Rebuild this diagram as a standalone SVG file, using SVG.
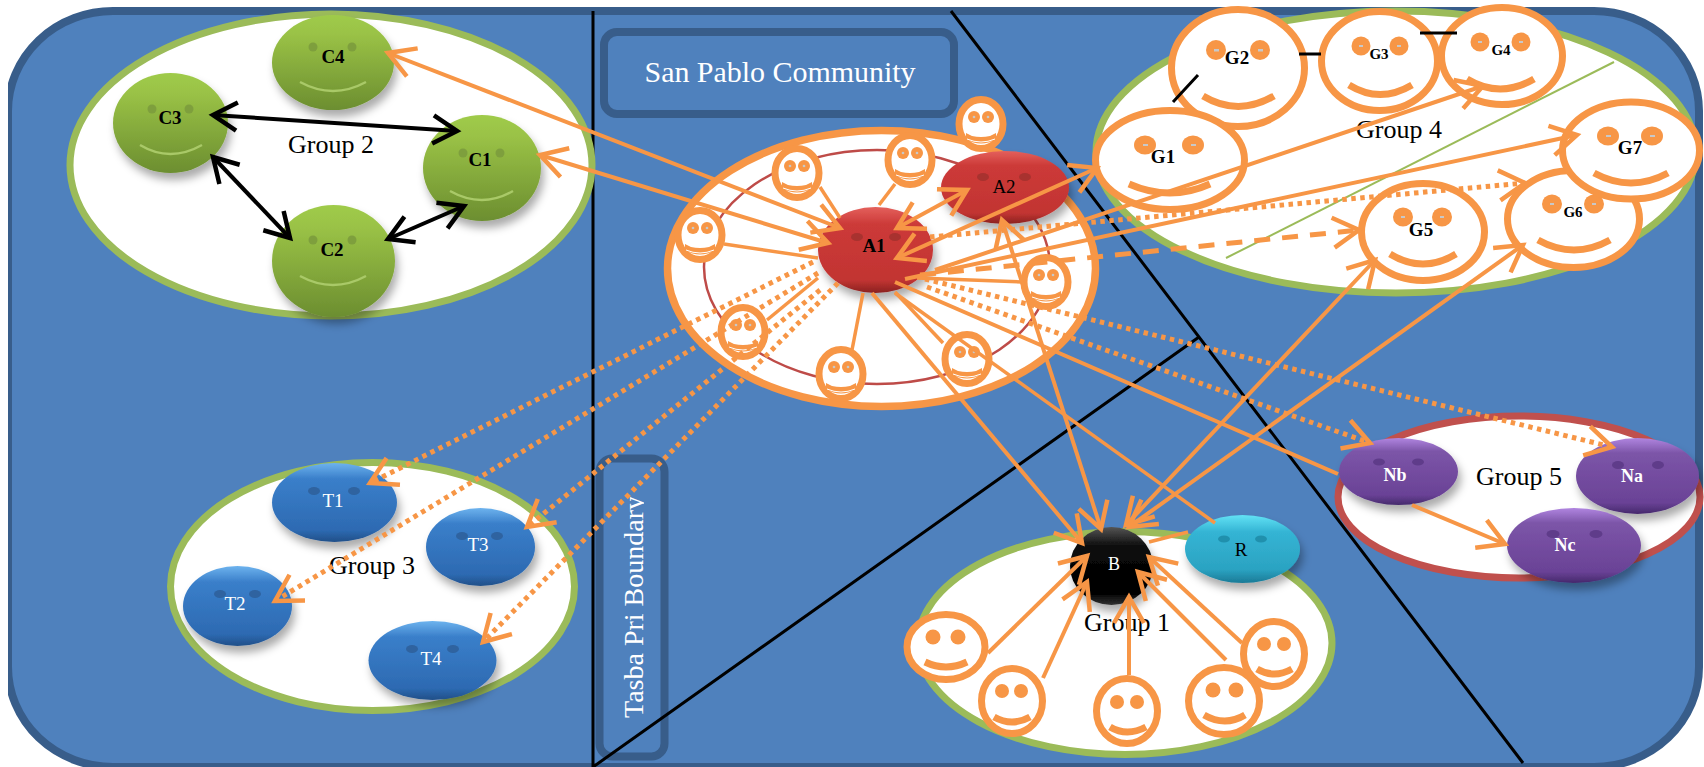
<svg xmlns="http://www.w3.org/2000/svg" width="1704" height="767" viewBox="0 0 1704 767">
<style>
text{font-family:"Liberation Serif","Times New Roman",serif;text-anchor:middle}
.bg{fill:#4f81bd;stroke:#385d8a;stroke-width:8}
.box{fill:#4f81bd;stroke:#385d8a;stroke-width:8}
.bl{stroke:#000;stroke-width:3;fill:none}
.grp{fill:#fff;stroke:#9bbb59;stroke-width:7}
.gl{font-size:26px;fill:#000}
.b{font-weight:bold;fill:#000;font-size:19px}
.n{fill:#000;font-size:19px}
.w{fill:#fff;font-size:19px}
.wb{fill:#fff;font-size:18px;font-weight:bold}
.sh{filter:url(#shadow)}
.face{fill:#fff;stroke:#f79646;stroke-width:7}
.eye{fill:#f79646}
.dot{fill:#c8c8c8}
.mouth{fill:none;stroke:#f79646;stroke-width:7}
.e-g{fill:#7e9f3d}.e-r{fill:#a8322f}.e-b{fill:#2f63a0}.e-p{fill:#5f3c8a}.e-c{fill:#2090ad}
.sm{fill:none;stroke:#a9c968;stroke-width:2.5}
.o{stroke:#f79646;stroke-width:4;fill:none}
.t{stroke-width:3.5}
.ah{marker-end:url(#ao)}
.ah2{marker-end:url(#ao);marker-start:url(#ao)}
.dt{stroke-width:5;stroke-dasharray:4.5 4.5}
.ds{stroke-width:5;stroke-dasharray:16 12}
.k{stroke:#000;stroke-width:4;fill:none;marker-end:url(#ak);marker-start:url(#ak)}
</style>
<defs>
<filter id="shadow" x="-20%" y="-20%" width="150%" height="150%"><feDropShadow dx="3" dy="7" stdDeviation="4" flood-color="#000" flood-opacity="0.33"/></filter>
<marker id="ao" markerUnits="userSpaceOnUse" markerWidth="40" markerHeight="40" refX="32" refY="20" orient="auto-start-reverse" viewBox="0 0 40 40"><path d="M6,5 L32,20 L6,35" fill="none" stroke="#f79646" stroke-width="4.5"/></marker>
<marker id="ak" markerUnits="userSpaceOnUse" markerWidth="40" markerHeight="40" refX="32" refY="20" orient="auto-start-reverse" viewBox="0 0 40 40"><path d="M8,6 L32,20 L8,34" fill="none" stroke="#000" stroke-width="4.5"/></marker>
<linearGradient id="gg" x1="0" y1="0" x2="0" y2="1"><stop offset="0" stop-color="#9fcb4a"/><stop offset=".2" stop-color="#9ac246"/><stop offset="1" stop-color="#6c8e30"/></linearGradient>
<linearGradient id="gr" x1="0" y1="0" x2="0" y2="1"><stop offset="0" stop-color="#e4605c"/><stop offset=".2" stop-color="#cc3a38"/><stop offset=".85" stop-color="#c23432"/><stop offset="1" stop-color="#8a2220"/></linearGradient>
<linearGradient id="gb" x1="0" y1="0" x2="0" y2="1"><stop offset="0" stop-color="#6db3ee"/><stop offset=".2" stop-color="#3a7fca"/><stop offset=".85" stop-color="#2d6ab2"/><stop offset="1" stop-color="#214f88"/></linearGradient>
<linearGradient id="gp" x1="0" y1="0" x2="0" y2="1"><stop offset="0" stop-color="#b085e0"/><stop offset=".2" stop-color="#7c55a8"/><stop offset=".85" stop-color="#6a4296"/><stop offset="1" stop-color="#45296c"/></linearGradient>
<linearGradient id="gc" x1="0" y1="0" x2="0" y2="1"><stop offset="0" stop-color="#62e2f5"/><stop offset=".25" stop-color="#34b4d4"/><stop offset=".8" stop-color="#2ba3c2"/><stop offset="1" stop-color="#1b7a96"/></linearGradient>
<linearGradient id="gk" x1="0" y1="0" x2="0" y2="1"><stop offset="0" stop-color="#555"/><stop offset=".25" stop-color="#0a0a0a"/><stop offset=".85" stop-color="#000"/><stop offset="1" stop-color="#333"/></linearGradient>
<clipPath id="tclip"><rect x="610" y="497" width="34" height="240"/></clipPath>
<clipPath id="bgclip"><rect x="8" y="0" width="1696" height="767"/></clipPath>
<g id="sf">
<ellipse rx="22" ry="24.5" class="face"/>
<circle cx="-7" cy="-7" r="6" class="eye"/><circle cx="7" cy="-7" r="6" class="eye"/>
<circle cx="-7" cy="-7" r="1.3" class="dot"/><circle cx="7" cy="-7" r="1.3" class="dot"/>
<path d="M-15,9 L-9,12 Q0,14 9,12 L15,9 L15,15 Q0,24 -15,15 Z" fill="#f79646"/>
<path d="M-14,15 Q0,21 14,15" fill="none" stroke="#fff" stroke-width="1"/>
</g>
</defs>

<g id="background">
<g clip-path="url(#bgclip)"><rect x="8" y="11" width="1691" height="756" rx="105" ry="100" class="bg"/></g>
<rect x="604" y="32" width="350" height="82" rx="13" class="box"/>
<rect x="599.5" y="458.5" width="65" height="298" rx="13" class="box"/>
<path class="bl" d="M593,11V767M951,11L1523,763M593,767L1199,337"/>
</g>

<g id="title-san-pablo"><text x="780" y="82" fill="#fff" font-size="30" textLength="271">San Pablo Community</text></g>
<g id="title-tasba"><g clip-path="url(#tclip)"><text transform="translate(643,607) rotate(-90)" fill="#fff" font-size="28">Tasba Pri Boundary</text></g></g>

<g id="group-2"><ellipse cx="331" cy="165" rx="261" ry="151" class="grp"/><text x="331" y="153" class="gl">Group 2</text></g>
<g id="group-3"><ellipse cx="372.5" cy="586.5" rx="202" ry="124" class="grp"/><text x="372" y="574" class="gl">Group 3</text></g>
<g id="group-1"><ellipse cx="1125" cy="643" rx="207" ry="111.5" class="grp"/><text x="1127" y="631" class="gl">Group 1</text></g>
<g id="group-4"><ellipse cx="1396" cy="152" rx="300" ry="141" class="grp"/><path d="M1226,258L1614,62" stroke="#9bbb59" stroke-width="2" fill="none"/><text x="1399" y="138" class="gl">Group 4</text></g>
<g id="group-5"><ellipse cx="1519" cy="497" rx="181" ry="81" class="grp" style="stroke:#c0504d"/><text x="1519" y="485" class="gl">Group 5</text></g>
<g id="group-a"><ellipse cx="881.5" cy="268.5" rx="214" ry="138" fill="#fff" stroke="#f79646" stroke-width="7.5"/><ellipse cx="877" cy="267" rx="173" ry="117" fill="none" stroke="#be4b48" stroke-width="2.5"/></g>

<g id="C4"><ellipse cx="333" cy="62.5" rx="61" ry="47.5" fill="url(#gg)" class="sh"/><circle cx="313" cy="47" r="4.5" class="e-g"/><circle cx="352" cy="47" r="4.5" class="e-g"/><path d="M300,82Q333,100 366,82" class="sm"/><text x="333" y="63" class="b">C4</text></g>
<g id="C3"><ellipse cx="170.5" cy="123" rx="57.5" ry="50" fill="url(#gg)" class="sh"/><circle cx="152" cy="109" r="4.5" class="e-g"/><circle cx="189" cy="109" r="4.5" class="e-g"/><path d="M140,145Q170,163 202,145" class="sm"/><text x="170" y="124" class="b">C3</text></g>
<g id="C1"><ellipse cx="482" cy="168" rx="59" ry="53" fill="url(#gg)" class="sh"/><circle cx="463" cy="153" r="4.5" class="e-g"/><circle cx="500" cy="153" r="4.5" class="e-g"/><path d="M450,191Q482,209 513,191" class="sm"/><text x="480" y="166" class="b">C1</text></g>
<g id="C2"><ellipse cx="333.5" cy="261" rx="61.5" ry="56" fill="url(#gg)" class="sh"/><circle cx="313" cy="240" r="4.5" class="e-g"/><circle cx="352" cy="240" r="4.5" class="e-g"/><path d="M300,276Q333,294 366,276" class="sm"/><text x="332" y="256" class="b">C2</text></g>

<g id="T1"><ellipse cx="334.5" cy="502.5" rx="62.5" ry="39.5" fill="url(#gb)" class="sh"/><ellipse cx="314" cy="491" rx="6" ry="4" class="e-b"/><ellipse cx="354" cy="491" rx="6" ry="4" class="e-b"/><text x="333" y="507" class="w">T1</text></g>
<g id="T3"><ellipse cx="480.5" cy="547" rx="54.5" ry="39" fill="url(#gb)" class="sh"/><ellipse cx="462" cy="536" rx="6" ry="4" class="e-b"/><ellipse cx="497" cy="536" rx="6" ry="4" class="e-b"/><text x="478" y="551" class="w">T3</text></g>
<g id="T2"><ellipse cx="237.5" cy="606" rx="54.5" ry="40" fill="url(#gb)" class="sh"/><ellipse cx="220" cy="594" rx="6" ry="4" class="e-b"/><ellipse cx="255" cy="594" rx="6" ry="4" class="e-b"/><text x="235" y="610" class="w">T2</text></g>
<g id="T4"><ellipse cx="432.5" cy="660.5" rx="64" ry="39.5" fill="url(#gb)" class="sh"/><ellipse cx="412" cy="649" rx="6" ry="4" class="e-b"/><ellipse cx="453" cy="649" rx="6" ry="4" class="e-b"/><text x="431" y="665" class="w">T4</text></g>

<g id="A2"><ellipse cx="1005" cy="187.5" rx="64" ry="36.5" fill="url(#gr)" class="sh"/><ellipse cx="983" cy="177" rx="6" ry="4" class="e-r"/><ellipse cx="1025" cy="177" rx="6" ry="4" class="e-r"/><text x="1004" y="193" class="n">A2</text></g>
<g id="A1"><ellipse cx="875.5" cy="250" rx="57.5" ry="43" fill="url(#gr)" class="sh"/><ellipse cx="857" cy="237" rx="6" ry="4" class="e-r"/><ellipse cx="895" cy="237" rx="6" ry="4" class="e-r"/><text x="874" y="252" class="b">A1</text></g>

<g id="a-face-1"><use href="#sf" x="981" y="124"/></g>
<g id="a-face-2"><use href="#sf" x="910" y="160"/></g>
<g id="a-face-3"><use href="#sf" x="797" y="173"/></g>
<g id="a-face-4"><use href="#sf" x="700" y="235"/></g>
<g id="a-face-5"><use href="#sf" x="743" y="332"/></g>
<g id="a-face-6"><use href="#sf" x="841" y="374"/></g>
<g id="a-face-7"><use href="#sf" x="967" y="359"/></g>
<g id="a-face-8"><use href="#sf" x="1046" y="282"/></g>

<g id="G2"><ellipse cx="1238" cy="68" rx="66.5" ry="58.5" class="face"/><circle cx="1216" cy="50" r="10" class="eye"/><circle cx="1260" cy="50" r="10" class="eye"/><rect x="1214" y="49" width="5" height="2.5" class="dot"/><rect x="1258" y="49" width="5" height="2.5" class="dot"/><path d="M1203,96Q1238,117 1274,96" class="mouth"/><text x="1237" y="64" class="b">G2</text></g>
<g id="G3"><ellipse cx="1379.5" cy="61" rx="58" ry="49.5" class="face"/><circle cx="1361" cy="46" r="9.5" class="eye"/><circle cx="1399" cy="46" r="9.5" class="eye"/><rect x="1359" y="45" width="4" height="2" class="dot"/><rect x="1397" y="45" width="4" height="2" class="dot"/><path d="M1349,85Q1380,104 1412,85" class="mouth"/><text x="1379" y="59" class="b" style="font-size:15px">G3</text></g>
<g id="G4"><ellipse cx="1502" cy="56" rx="60.5" ry="48.5" class="face"/><circle cx="1480" cy="42" r="9.5" class="eye"/><circle cx="1521" cy="42" r="9.5" class="eye"/><rect x="1478" y="41" width="4" height="2" class="dot"/><rect x="1519" y="41" width="4" height="2" class="dot"/><path d="M1467,79Q1500,99 1534,79" class="mouth"/><text x="1501" y="55" class="b" style="font-size:15px">G4</text></g>
<g id="G1"><ellipse cx="1170" cy="160" rx="74.5" ry="49.5" class="face"/><ellipse cx="1145" cy="145" rx="11" ry="9.5" class="eye"/><ellipse cx="1193" cy="145" rx="11" ry="9.5" class="eye"/><rect x="1143" y="144" width="5" height="2" class="dot"/><rect x="1191" y="144" width="5" height="2" class="dot"/><path d="M1129,184Q1170,202 1210,184" class="mouth"/><text x="1163" y="163" class="b">G1</text></g>
<g id="G5"><ellipse cx="1423" cy="232" rx="61.5" ry="48.5" class="face"/><ellipse cx="1403" cy="217" rx="10" ry="9.5" class="eye"/><ellipse cx="1442" cy="217" rx="10" ry="9.5" class="eye"/><rect x="1401" y="216" width="4" height="2" class="dot"/><rect x="1440" y="216" width="4" height="2" class="dot"/><path d="M1390,254Q1423,274 1456,254" class="mouth"/><text x="1421" y="236" class="b">G5</text></g>
<g id="G6"><ellipse cx="1573.5" cy="219" rx="66" ry="48.5" class="face"/><ellipse cx="1552" cy="204" rx="10" ry="9.5" class="eye"/><ellipse cx="1594" cy="204" rx="10" ry="9.5" class="eye"/><rect x="1550" y="203" width="4" height="2" class="dot"/><rect x="1592" y="203" width="4" height="2" class="dot"/><path d="M1538,240Q1574,260 1610,240" class="mouth"/><text x="1573" y="217" class="b" style="font-size:15px">G6</text></g>
<g id="G7"><ellipse cx="1631" cy="150.5" rx="68.5" ry="48.5" class="face"/><ellipse cx="1608" cy="136" rx="11" ry="9.5" class="eye"/><ellipse cx="1652" cy="136" rx="11" ry="9.5" class="eye"/><rect x="1606" y="135" width="5" height="2" class="dot"/><rect x="1650" y="135" width="5" height="2" class="dot"/><path d="M1594,173Q1631,193 1668,173" class="mouth"/><text x="1630" y="154" class="b">G7</text></g>
<path id="G-ties" d="M1198,75L1173,102M1299,54H1321M1420,33H1457" stroke="#000" stroke-width="3" fill="none"/>

<g id="B"><ellipse cx="1111.5" cy="566" rx="41.5" ry="39" fill="url(#gk)" class="sh"/><text x="1114" y="570" class="w" style="font-size:18px">B</text></g>
<g id="R"><ellipse cx="1242.5" cy="549" rx="57.5" ry="34" fill="url(#gc)" class="sh"/><ellipse cx="1224" cy="539" rx="6" ry="3.5" class="e-c"/><ellipse cx="1261" cy="539" rx="6" ry="3.5" class="e-c"/><text x="1241" y="556" class="n">R</text></g>
<g id="s-1"><ellipse cx="946" cy="647" rx="39" ry="32.5" class="face"/><circle cx="933" cy="637" r="7.5" class="eye"/><circle cx="958" cy="637" r="7.5" class="eye"/><path d="M925,662Q946,672 967,662" class="mouth"/></g>
<g id="s-2"><ellipse cx="1012" cy="701" rx="30.5" ry="32.5" class="face"/><circle cx="1002" cy="691" r="7" class="eye"/><circle cx="1021" cy="691" r="7" class="eye"/><path d="M994,717Q1012,727 1030,717" class="mouth"/></g>
<g id="s-3"><ellipse cx="1127" cy="711" rx="30.5" ry="32.5" class="face"/><circle cx="1117" cy="702" r="7" class="eye"/><circle cx="1137" cy="702" r="7" class="eye"/><path d="M1110,727Q1127,737 1146,727" class="mouth"/></g>
<g id="s-4"><ellipse cx="1224" cy="701" rx="35.5" ry="33.5" class="face"/><circle cx="1213" cy="690" r="7.5" class="eye"/><circle cx="1236" cy="690" r="7.5" class="eye"/><path d="M1204,715Q1225,727 1245,715" class="mouth"/></g>
<g id="s-5"><ellipse cx="1274" cy="654" rx="30.5" ry="32.5" class="face"/><circle cx="1264" cy="644" r="7" class="eye"/><circle cx="1284" cy="644" r="7" class="eye"/><path d="M1257,669Q1274,679 1292,669" class="mouth"/></g>

<g id="Nb"><ellipse cx="1398.5" cy="471.5" rx="59.5" ry="33.5" fill="url(#gp)" class="sh"/><ellipse cx="1379" cy="462" rx="6" ry="3.5" class="e-p"/><ellipse cx="1418" cy="462" rx="6" ry="3.5" class="e-p"/><text x="1395" y="481" class="wb">Nb</text></g>
<g id="Na"><ellipse cx="1637.5" cy="476" rx="61.5" ry="38" fill="url(#gp)" class="sh"/><ellipse cx="1618" cy="465" rx="6" ry="4" class="e-p"/><ellipse cx="1658" cy="465" rx="6" ry="4" class="e-p"/><text x="1632" y="482" class="wb">Na</text></g>
<g id="Nc"><ellipse cx="1574" cy="545.5" rx="67" ry="37.5" fill="url(#gp)" class="sh"/><ellipse cx="1553" cy="534" rx="6.5" ry="4" class="e-p"/><ellipse cx="1596" cy="534" rx="6.5" ry="4" class="e-p"/><text x="1565" y="551" class="wb">Nc</text></g>

<g id="connectors">
<path class="k" d="M213,115L457,131"/>
<path class="k" d="M213,157L290,238"/>
<path class="k" d="M388,239L464,206"/>
<path class="o ah2" d="M388,53L840,228"/>
<path class="o ah2" d="M540,155L828,243"/>
<path class="o ah2" d="M897,228L967,190"/>
<path class="o ah2" d="M897,258L1097,168"/>
<path class="o ah" d="M935,270L1483,86"/>
<path class="o ah" d="M905,279L1577,135"/>
<path class="o dt ah" d="M930,237L1525,183"/>
<path class="o ds ah" d="M920,275L1359,230"/>
<path class="o ah" d="M872,293L1082,543"/>
<path class="o ah2" d="M1002,220L1101,529"/>
<path class="o ah2" d="M1126,525L1375,260"/>
<path class="o ah2" d="M1129,527L1523,245"/>
<path class="o ah" d="M988,653L1087,556"/>
<path class="o ah" d="M1043,678L1087,582"/>
<path class="o ah" d="M1129,675L1129,597"/>
<path class="o ah" d="M1226,660L1138,572"/>
<path class="o ah" d="M1242,643L1149,557"/>
<path class="o t" d="M1188,532L1149,542"/>
<path class="o t" d="M895,293L1215,523"/>
<path class="o" d="M895,282L1338,474"/>
<path class="o t" d="M943,343L895,292"/>
<path class="o dt ah" d="M925,279L1612,447"/>
<path class="o dt ah" d="M927,287L1370,443"/>
<path class="o ah" d="M1412,505L1505,544"/>
<path class="o t" d="M895,184L879,205"/>
<path class="o t" d="M820,187L840,218"/>
<path class="o t" d="M724,244L818,258"/>
<path class="o t" d="M767,320L818,278"/>
<path class="o t" d="M852,350L863,293"/>
<path class="o t" d="M1022,282L917,278"/>
<path class="o dt ah" d="M813,262L370,483"/>
<path class="o dt ah" d="M818,273L275,601"/>
<path class="o dt ah" d="M820,290L527,527"/>
<path class="o dt ah" d="M838,283L483,642"/>
</g>
</svg>
